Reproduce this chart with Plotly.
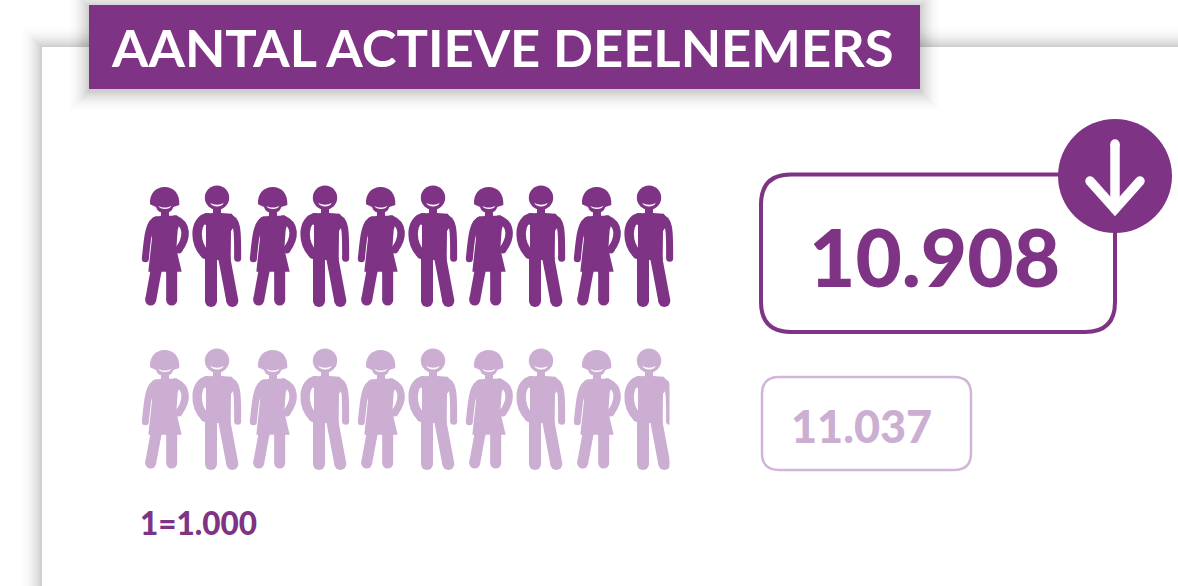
import plotly.graph_objects as go

title = "AANTAL ACTIEVE DEELNEMERS"
values = ["10.908", "11.037"]
icons_per_row = [10, 10]
scale_label = "1=1.000"
PURPLE = "#7E3385"
LIGHT = "#CBAED2"
FONT = "Lato"

shapes = []
anns = []


def add(path, fill=None, line=None, w=0):
    shapes.append(dict(type="path", path=path, xref="x", yref="y", layer="above",
                       fillcolor=fill or "rgba(0,0,0,0)",
                       line=dict(color=line or "rgba(0,0,0,0)", width=w)))


def rect(x0, y0, x1, y1, fill):
    shapes.append(dict(type="rect", x0=x0, y0=y0, x1=x1, y1=y1, xref="x", yref="y",
                       layer="above", fillcolor=fill, line=dict(width=0)))


def circ(cx, cy, r, fill):
    shapes.append(dict(type="circle", x0=cx - r, y0=cy - r, x1=cx + r, y1=cy + r, xref="x", yref="y",
                       layer="above", fillcolor=fill, line=dict(width=0)))


def stroke(pts, w, col, curve=False):
    """Thick line with round ends; glyph points are in local pixels."""
    if curve:
        d = f"M{pts[0][0]:.2f},{pts[0][1]:.2f} C" + " ".join(f"{a:.2f},{b:.2f}" for a, b in pts[1:])
    else:
        d = "M" + " L".join(f"{a:.2f},{b:.2f}" for a, b in pts)
    add(d, line=col, w=w)
    circ(pts[0][0], pts[0][1], w / 2, col)
    circ(pts[-1][0], pts[-1][1], w / 2, col)


def glyph_tools(ox, oy):
    f = lambda x, y: (ox + x / 3, oy + y / 3)
    P = lambda *xy: " ".join(f"{f(a, b)[0]:.2f},{f(a, b)[1]:.2f}" for a, b in xy)
    L = lambda *xy: " ".join(f"L{f(a, b)[0]:.2f},{f(a, b)[1]:.2f}" for a, b in xy)
    return f, P, L


def woman(ox, oy, col):
    f, P, L = glyph_tools(ox, oy)
    # hair and face
    add(f"M{P((60,88))} C{P((58,55),(78,36),(104,36))} C{P((130,36),(150,55),(148,90))} "
        f"L{P((130,96))} C{P((126,110),(114,114),(104,114))} C{P((94,114),(82,110),(78,96))} Z", fill=col)
    # neck + dress
    add(f"M{P((93,108))} {L((117,108),(117,122),(140,122),(152,135),(143,165),(139,222),(155,290),(55,290),(66,190),(60,165),(68,128),(93,122))} Z", fill=col)
    # arms
    stroke([f(80, 134), f(54, 142), f(52, 195), f(46, 251)], 7, col, True)
    stroke([f(135, 132), f(175, 148), f(172, 190), f(146, 224)], 7.5, col, True)
    # legs
    stroke([f(78, 288), f(62, 375)], 11, col)
    stroke([f(125, 288), f(125, 375)], 11, col)
    # smile
    add(f"M{P((85,92))} C{P((92,99),(116,99),(124,92))} C{P((120,105),(90,105),(85,92))} Z", fill="white")


def man(ox, oy, col):
    f, P, L = glyph_tools(ox, oy)
    cx, cy = f(261, 68)
    circ(cx, cy, 12.2, col)
    # neck + torso
    add(f"M{P((249,95))} {L((273,95),(273,114),(305,116),(322,140),(303,168),(302,255),(226,255),(228,215),(228,150),(205,140),(222,116),(249,114))} Z", fill=col)
    # arms
    stroke([f(232, 128), f(195, 135), f(190, 200), f(226, 238)], 9.5, col, True)
    stroke([f(295, 128), f(328, 130), f(322, 190), f(323, 250)], 7, col, True)
    # legs
    stroke([f(243, 250), f(243, 378)], 12, col)
    stroke([f(283, 250), f(307, 378)], 12, col)
    # smile
    add(f"M{P((241,83))} C{P((250,91),(272,91),(281,83))} C{P((277,98),(246,98),(241,83))} Z", fill="white")


def shadow_alpha(i, n=28):
    return 0.0004 + 0.024 * (1 - i / n) ** 2


# panel + shadow
for i in range(28, 0, -1):
    rect(42 - i, 47 - i, 1300, 800, f"rgba(40,40,40,{shadow_alpha(i):.4f})")
rect(42, 47, 1300, 800, "#FFFFFF")

# title + shadow
for i in range(28, 0, -1):
    rect(89 - i, 5 - i + 2, 920 + i, 89 + i + 2, f"rgba(40,40,40,{shadow_alpha(i):.4f})")
rect(89, 5, 920, 89, PURPLE)

# pictograms
row_tops = [175, 338]
row_cols = [PURPLE, LIGHT]
for top, col, n in zip(row_tops, row_cols, icons_per_row):
    for i in range(n):
        ox = 130 + 108 * (i // 2)
        (woman if i % 2 == 0 else man)(ox, top, col)
rect(669.5, 330, 690, 480, "#FFFFFF")

# main box
x0, y0, x1, y1, r = 761, 174.5, 1115, 332, 30
add(f"M{x0 + r},{y0} L{x1 - r},{y0} Q{x1},{y0} {x1},{y0 + r} L{x1},{y1 - r} Q{x1},{y1} {x1 - r},{y1} "
    f"L{x0 + r},{y1} Q{x0},{y1} {x0},{y1 - r} L{x0},{y0 + r} Q{x0},{y0} {x0 + r},{y0} Z", fill="#FFFFFF", line=PURPLE, w=4)
# previous box
x0, y0, x1, y1, r = 762, 377, 971, 470, 17
add(f"M{x0 + r},{y0} L{x1 - r},{y0} Q{x1},{y0} {x1},{y0 + r} L{x1},{y1 - r} Q{x1},{y1} {x1 - r},{y1} "
    f"L{x0 + r},{y1} Q{x0},{y1} {x0},{y1 - r} L{x0},{y0 + r} Q{x0},{y0} {x0 + r},{y0} Z", fill="#FFFFFF", line="#D2B6D8", w=2.5)
# down badge
circ(1115, 176, 57, PURPLE)
stroke([(1115, 144), (1115, 209)], 9.5, "#FFFFFF")
stroke([(1090, 181), (1115, 209), (1140, 181)], 9.5, "#FFFFFF")


def text(x, y, s, size, col, anchor="center", weight=700):
    anns.append(dict(x=x, y=y, xref="x", yref="y", text=s, showarrow=False, xanchor=anchor, yanchor="middle",
                     font=dict(family=FONT, size=size, color=col, weight=weight)))


text(502, 46, title, 52.5, "#FFFFFF")
text(934, 256, values[0], 80, PURPLE, weight=900)
text(861, 426, values[1], 45, LIGHT, weight=900)
text(138, 523, scale_label, 31.5, PURPLE, "left", weight=900)

fig = go.Figure(go.Scatter(x=[0], y=[0], mode="markers", marker=dict(opacity=0), hoverinfo="skip", showlegend=False))
fig.update_layout(
    width=1178, height=586, margin=dict(l=0, r=0, t=0, b=0), showlegend=False,
    paper_bgcolor="white", plot_bgcolor="white", shapes=shapes, annotations=anns,
    xaxis=dict(range=[0, 1178], visible=False, fixedrange=True),
    yaxis=dict(range=[586, 0], visible=False, fixedrange=True),
)
fig.write_html("out.html", config=dict(displayModeBar=False), default_width="1178px", default_height="586px",
               post_script="document.body.style.margin='0';")
